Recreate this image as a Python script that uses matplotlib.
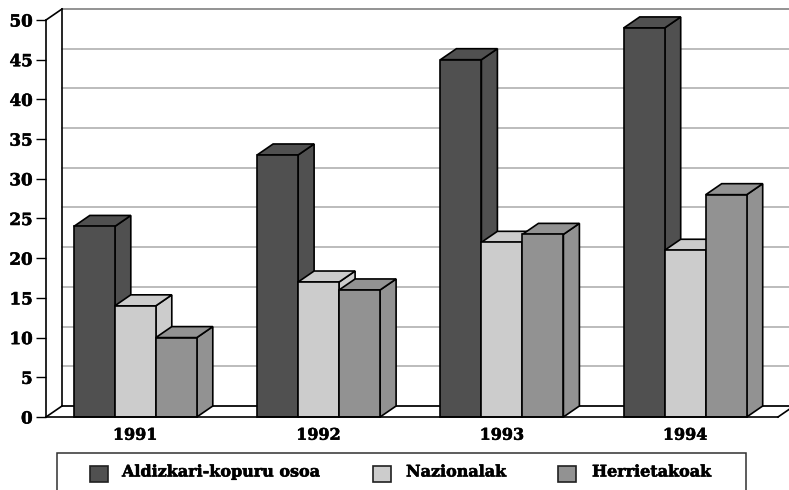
import matplotlib
matplotlib.use("Agg")
import matplotlib.pyplot as plt
from matplotlib.patches import Polygon, Rectangle
import matplotlib.patheffects as pe

years = ["1991", "1992", "1993", "1994"]
series_names = ["Aldizkari-kopuru osoa", "Nazionalak", "Herrietakoak"]
osoa = [24, 33, 45, 49]
nazionalak = [14, 17, 22, 21]
herrietakoak = [10, 16, 23, 28]
series = [osoa, nazionalak, herrietakoak]
colors = ["#505050", "#cccccc", "#929292"]
yticks = [0, 5, 10, 15, 20, 25, 30, 35, 40, 45, 50]

W, H = 789, 490
FONT = "DejaVu Serif"
# the original lettering is a heavier face than DejaVu Serif Bold
HEAVY = [pe.withStroke(linewidth=0.4, foreground="black")]

fig = plt.figure(figsize=(W / 100, H / 100), dpi=100)
# axes box is the front plane of the fake 3d chart
ax = fig.add_axes([46 / W, 1 - 417 / H, (778 - 46) / W, (417 - 20) / H])
ax.set_ylim(0, 50)
x_left = -(135.3 - 46) / 183.3
x_right = (778 - 135.3) / 183.3
ax.set_xlim(x_left, x_right)

bar_w = 41 / 183.3
# depth of the 3d offset, in data units
dx = 16 / 183.3
dy = 11 * 50 / 397
LW = 1.2


def poly(pts, fc, ec="black", lw=LW, z=3):
    ax.add_patch(Polygon(pts, closed=True, fc=fc, ec=ec, lw=lw, zorder=z,
                         clip_on=False, joinstyle="miter"))


def edge(xs, ys):
    ax.plot(xs, ys, color="black", lw=LW, zorder=1.5, clip_on=False)


# back wall, floor and gridlines
for v in yticks:
    c = "#808080" if v == 50 else "#b0b0b0"
    ax.plot([x_left + dx, 4.0], [v + dy, v + dy], color=c, lw=1.2, zorder=1,
            clip_on=False)
edge([x_left + dx, 4.0], [dy, dy])
edge([x_left, x_left + dx], [0, dy])
edge([x_left, x_left + dx], [50, 50 + dy])
edge([x_left + dx, x_left + dx], [dy, 50 + dy])
edge([x_right, x_right + dx], [0, dy])

# bars, drawn left to right so that later bars cover earlier side faces
for g in range(len(years)):
    for s, vals in enumerate(series):
        v = vals[g]
        x0 = g + (s - 1.5) * bar_w
        x1 = x0 + bar_w
        poly([(x1, 0), (x1 + dx, dy), (x1 + dx, v + dy), (x1, v)], colors[s], z=3 + s)
        poly([(x0, v), (x0 + dx, v + dy), (x1 + dx, v + dy), (x1, v)], colors[s], z=3 + s)
        poly([(x0, 0), (x0, v), (x1, v), (x1, 0)], colors[s], z=3 + s)

for side in ["top", "right"]:
    ax.spines[side].set_visible(False)
for side in ["left", "bottom"]:
    ax.spines[side].set_linewidth(LW)
    ax.spines[side].set_zorder(8)

ax.set_yticks(yticks)
ax.set_yticklabels([str(v) for v in yticks], fontfamily=FONT, fontweight="bold", fontsize=12,
                    path_effects=HEAVY)
ax.tick_params(axis="y", length=7.2, width=1.0, pad=2.5)
ax.set_xticks(range(len(years)))
ax.set_xticklabels(years, fontfamily=FONT, fontweight="bold", fontsize=11.5,
                   path_effects=HEAVY)
ax.tick_params(axis="x", length=0, pad=7)

# legend box runs off the bottom of the image
fig.add_artist(Rectangle((56.5 / W, 1 - 495 / H), (746 - 56.5) / W, (495 - 453.5) / H,
                         fc="white", ec="#303030", lw=1.1, transform=fig.transFigure))
swatch_x = [90, 373, 558]
text_x = [122, 406, 592]
for name, col, sx, tx in zip(series_names, colors, swatch_x, text_x):
    fig.add_artist(Rectangle((sx / W, 1 - 482 / H), 18 / W, 16 / H, fc=col, ec="#202020",
                             lw=1.2, transform=fig.transFigure))
    fig.text(tx / W, 1 - 472 / H, name, fontfamily=FONT, fontweight="bold", fontsize=11.5,
             ha="left", va="center", path_effects=HEAVY)

fig.savefig("out.png", dpi=100)
